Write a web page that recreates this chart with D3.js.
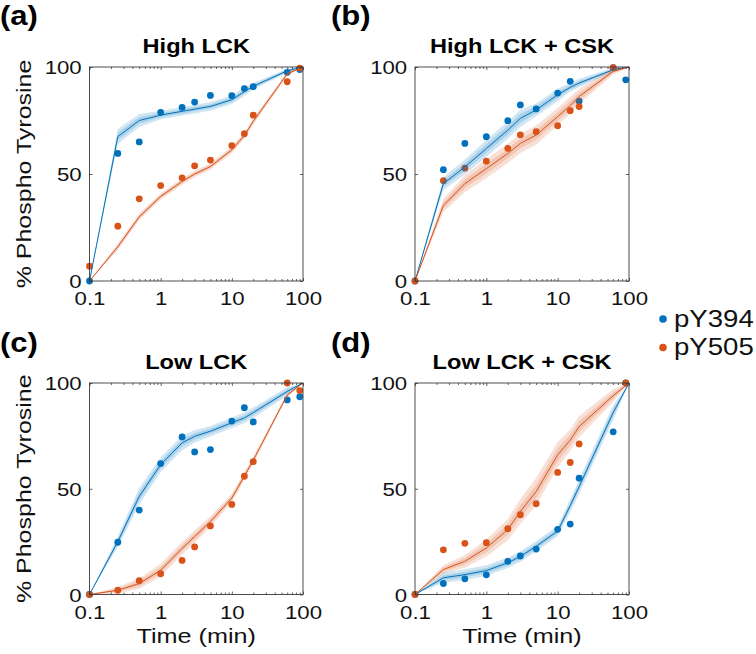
<!DOCTYPE html>
<html>
<head>
<meta charset="utf-8">
<script src="https://cdn.jsdelivr.net/npm/d3@7/dist/d3.min.js"></script>
<style>
  html, body { margin: 0; padding: 0; background: #fff; }
  svg { display: block; }
</style>
</head>
<body>
<svg id="chart" width="756" height="654"></svg>
<script>
// ---------------- data ----------------
const dataTimes  = [0.1, 0.25, 0.5, 1, 2, 3, 5, 10, 15, 20, 60, 90];
const modelTimes = [0.1, 0.25, 0.5, 1, 2, 3, 5, 10, 15, 20, 60, 100];
const seriesNames = ["pY394", "pY505"];
const panelLabels = ["(a)", "(b)", "(c)", "(d)"];
const panelTitles = ["High LCK", "High LCK + CSK", "Low LCK", "Low LCK + CSK"];
const xTickValues = [0.1, 1, 10, 100];
const yTickValues = [0, 50, 100];

// (a) High LCK
const aY394     = [0, 59.6, 65.0, 78.8, 81.1, 83.6, 86.7, 86.6, 89.9, 90.8, 97.5, 98.8];
const aY505     = [6.9, 25.6, 38.4, 44.6, 48.2, 53.8, 56.5, 63.3, 68.8, 77.5, 93.1, 99.5];
const aFitY394  = [0, 67.5, 75, 77.5, 79.3, 80.3, 81.6, 84.7, 88.5, 91, 98.2, 100];
const aFitY505  = [0, 16, 30, 39.5, 46.5, 50, 53.5, 61.3, 68, 74.6, 96.8, 100];
const aBandY394 = [0, 3.5, 3, 2, 2, 2, 2, 2, 2, 1.5, 1, 0];
const aBandY505 = [0, 1.5, 1.5, 1.5, 1.5, 1.5, 1.5, 1.5, 1.5, 1.5, 1, 0];

// (b) High LCK + CSK
const bY394     = [0, 52, 64.3, 67.4, 74.9, 82.3, 80.4, 87.8, 93.3, 84.0, 99.7, 94];
const bY505     = [0, 46.9, 52.7, 56, 62, 68.3, 69.8, 72.6, 79.6, 81.5, 99.7, null];
const bFitY394  = [0, 45.5, 53.3, 61.9, 70.5, 76, 80, 87, 90.5, 92.5, 98.7, 100];
const bFitY505  = [0, 35.3, 45.5, 52.5, 59.6, 64.3, 68.2, 76.8, 82, 86.2, 98, 100];
const bBandY394 = [0, 3, 3.5, 4, 4, 4, 3, 3, 2, 2, 1, 0];
const bBandY505 = [0, 3, 4, 4.5, 4.5, 4.5, 4.5, 4, 4, 3.5, 1.5, 0];

// (c) Low LCK
const cY394     = [0, 24.7, 39.9, 61.9, 74.5, 67.4, 68.5, 82, 88.3, 81.6, 92, 93.5];
const cY505     = [0, 2, 6.5, 9.8, 16.1, 22.5, 32.4, 42.6, 55.9, 62.8, 100, 96.4];
const cFitY394  = [0, 25, 46.4, 61.4, 71.7, 74.8, 77.2, 81.2, 83.5, 86, 96, 100];
const cFitY505  = [0, 2, 5.2, 11.5, 21.8, 27.4, 34.5, 45.6, 56, 63.5, 94.3, 100];
const cBandY394 = [0, 2.5, 4, 3.5, 3.5, 3, 2.5, 2.5, 2.5, 2.5, 2, 0];
const cBandY505 = [0, 1.5, 2.5, 3, 3, 3, 2.5, 2, 2, 1.5, 1, 0];

// (d) Low LCK + CSK
const dY394     = [0, 5.2, 7.4, 9.3, 15.7, 18.2, 21.5, 30.8, 33.3, 55, 76.9, 100];
const dY505     = [0, 21.1, 24.2, 24.5, 31.1, 37.7, 42.9, 57.7, 62.4, 71.2, null, 100];
const dFitY394  = [0, 7.9, 9.4, 11.3, 15, 18, 22.8, 30, 42, 51, 86, 100];
const dFitY505  = [0, 11.8, 15.7, 22, 30.7, 39.3, 48.7, 66, 73, 79.4, 94, 100];
const dBandY394 = [0, 2.5, 2.5, 2.5, 2.5, 2.5, 2.5, 2.5, 3, 3.5, 3.5, 0];
const dBandY505 = [0, 2, 3, 4, 5, 6, 6.5, 6, 5, 5, 3, 0];

// ---------------- styling / layout ----------------
const FONT = "'Liberation Sans', Arial, Helvetica, sans-serif";
const COLORS = ["#0072BD", "#D95319"];
const SX = 1.2; // horizontal stretch of the glyphs

const panels = [
  { x0: 89.5, y0: 67,  w: 213.5, h: 214,   lx: 0,   ly: 25,  pts: [aY394, aY505], fit: [aFitY394, aFitY505], band: [aBandY394, aBandY505], ylab: true,  xlab: false },
  { x0: 415,  y0: 67,  w: 214,   h: 214,   lx: 331, ly: 25,  pts: [bY394, bY505], fit: [bFitY394, bFitY505], band: [bBandY394, bBandY505], ylab: false, xlab: false },
  { x0: 89.5, y0: 383, w: 213.5, h: 211.5, lx: 0,   ly: 352, pts: [cY394, cY505], fit: [cFitY394, cFitY505], band: [cBandY394, cBandY505], ylab: true,  xlab: true },
  { x0: 415,  y0: 383, w: 214,   h: 211.5, lx: 331, ly: 352, pts: [dY394, dY505], fit: [dFitY394, dFitY505], band: [dBandY394, dBandY505], ylab: false, xlab: true }
];

const svg = d3.select("#chart");

function label(sel, x, y, str, o) {
  return sel.append("text")
    .attr("transform", `translate(${x},${y})${o.rot ? ` rotate(${o.rot})` : ""} scale(${o.sx || SX},1)`)
    .attr("text-anchor", o.anchor || "start")
    .attr("font-family", FONT)
    .attr("font-size", o.size)
    .attr("font-weight", o.weight || "normal")
    .attr("fill", o.fill || "#111")
    .text(str);
}

const minorTicks = [];
[0.1, 1, 10].forEach(d => { for (let k = 2; k <= 9; k++) minorTicks.push(+(d * k).toPrecision(3)); });

panels.forEach((p, pi) => {
  const x = d3.scaleLog().domain([0.1, 100]).range([p.x0, p.x0 + p.w]);
  const y = d3.scaleLinear().domain([0, 100]).range([p.y0 + p.h, p.y0]);
  const g = svg.append("g");

  // data points first (bands and lines are drawn over them)
  [0, 1].forEach(si => {
    const pts = dataTimes.map((t, i) => ({ t, v: p.pts[si][i] })).filter(d => d.v !== null);
    g.append("g").selectAll("circle").data(pts).join("circle")
      .attr("cx", d => x(d.t)).attr("cy", d => y(d.v)).attr("r", 3.4)
      .attr("fill", COLORS[si]);
  });

  // model bands and lines
  [0, 1].forEach(si => {
    const md = modelTimes.map((t, i) => ({ t, v: p.fit[si][i], hw: p.band[si][i] }));
    const outer = d3.area().x(d => x(d.t)).y0(d => y(d.v - d.hw)).y1(d => y(d.v + d.hw));
    const inner = d3.area().x(d => x(d.t)).y0(d => y(d.v - d.hw * 0.5)).y1(d => y(d.v + d.hw * 0.5));
    g.append("path").datum(md).attr("d", outer).attr("fill", COLORS[si]).attr("fill-opacity", 0.18);
    g.append("path").datum(md).attr("d", inner).attr("fill", COLORS[si]).attr("fill-opacity", 0.18);
    g.append("path").datum(md)
      .attr("d", d3.line().x(d => x(d.t)).y(d => y(d.v)))
      .attr("fill", "none").attr("stroke", COLORS[si]).attr("stroke-width", 1);
  });

  // box
  g.append("rect").attr("x", p.x0).attr("y", p.y0).attr("width", p.w).attr("height", p.h)
    .attr("fill", "none").attr("stroke", "#3a3a3a").attr("stroke-width", 0.9);

  const tickStyle = sel => {
    sel.select(".domain").remove();
    sel.selectAll(".tick line").attr("stroke", "#3a3a3a").attr("stroke-width", 0.8);
  };

  // x ticks (inward) bottom & top
  const xb = g.append("g").attr("transform", `translate(0,${p.y0 + p.h})`)
    .call(d3.axisBottom(x).tickValues(xTickValues).tickSize(-3).tickFormat(d3.format("~g")));
  tickStyle(xb);
  xb.selectAll(".tick text")
    .attr("y", 24.5).attr("dy", null)
    .attr("transform", `scale(${SX},1)`)
    .attr("font-family", FONT).attr("font-size", 18.5).attr("fill", "#111");
  g.append("g").attr("transform", `translate(0,${p.y0 + p.h})`)
    .call(d3.axisBottom(x).tickValues(minorTicks).tickSize(-2).tickFormat(""))
    .call(tickStyle);
  g.append("g").attr("transform", `translate(0,${p.y0})`)
    .call(d3.axisTop(x).tickValues(xTickValues).tickSize(-3).tickFormat(""))
    .call(tickStyle);
  g.append("g").attr("transform", `translate(0,${p.y0})`)
    .call(d3.axisTop(x).tickValues(minorTicks).tickSize(-2).tickFormat(""))
    .call(tickStyle);

  // y ticks (inward) left & right
  const yl = g.append("g").attr("transform", `translate(${p.x0},0)`)
    .call(d3.axisLeft(y).tickValues(yTickValues).tickSize(-3).tickFormat(d3.format("d")));
  tickStyle(yl);
  yl.selectAll(".tick text")
    .attr("x", -7.8 / SX).attr("y", 6.5).attr("dy", null)
    .attr("transform", `scale(${SX},1)`)
    .attr("font-family", FONT).attr("font-size", 18.5).attr("fill", "#111");
  g.append("g").attr("transform", `translate(${p.x0 + p.w},0)`)
    .call(d3.axisRight(y).tickValues(yTickValues).tickSize(-3).tickFormat(""))
    .call(tickStyle);

  // title and panel label
  label(svg, p.x0 + p.w / 2, p.y0 - 14, panelTitles[pi], { size: 20, weight: "bold", anchor: "middle", sx: 1.18, fill: "#000" });
  label(svg, p.lx, p.ly, panelLabels[pi], { size: 27, weight: "bold", sx: 1.15, fill: "#000" });

  if (p.ylab) label(svg, 30.6, p.y0 + p.h / 2, "% Phospho Tyrosine", { size: 21, anchor: "middle", rot: -90, sx: 1.19 });
  if (p.xlab) label(svg, p.x0 + p.w / 2, 643, "Time (min)", { size: 21, anchor: "middle", sx: 1.2 });
});

// legend
const legendY = [319, 347.5];
seriesNames.forEach((name, i) => {
  svg.append("circle").attr("cx", 663).attr("cy", legendY[i]).attr("r", 3.8).attr("fill", COLORS[i]);
  label(svg, 674, legendY[i] + 7.6, name, { size: 23, sx: 1.2 });
});
</script>
</body>
</html>
